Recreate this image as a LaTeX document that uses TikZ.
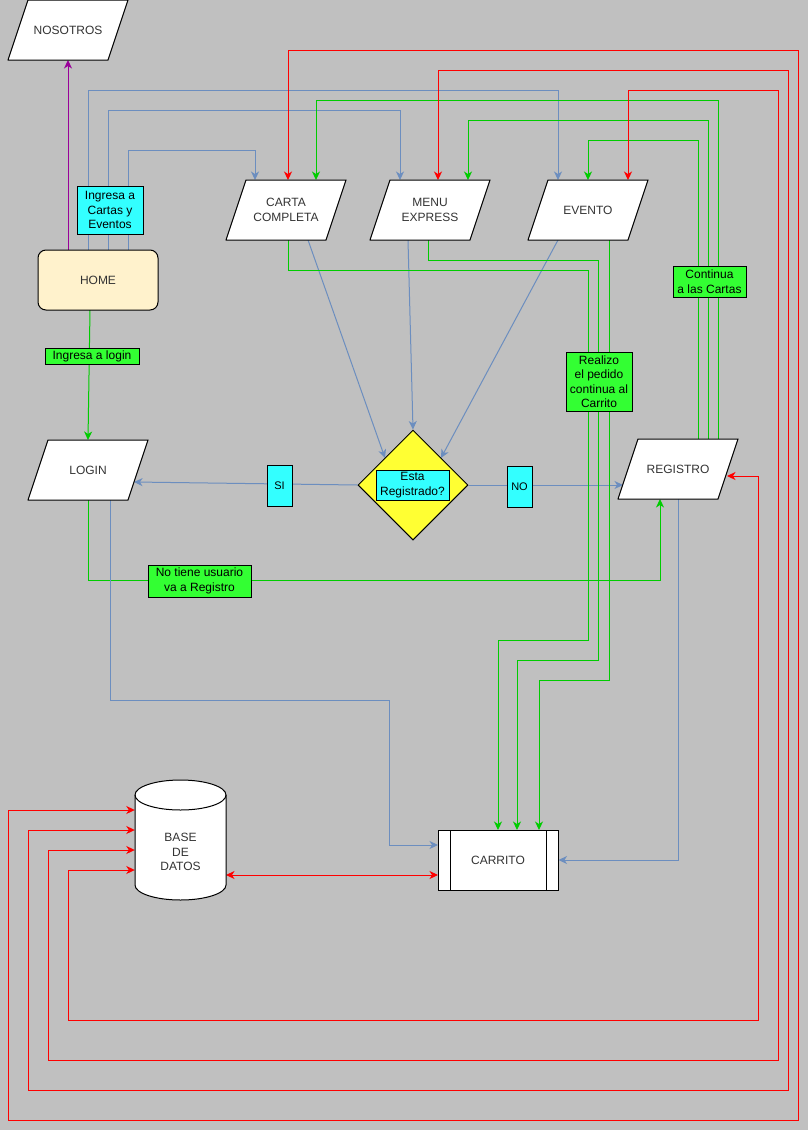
\documentclass[tikz,border=0pt]{standalone}
\usepackage{fontspec}
\setmainfont{Liberation Sans}
\usetikzlibrary{arrows.meta,shapes.geometric}
\pgfdeclarelayer{bg}
\pgfsetlayers{bg,main}
\definecolor{canvas}{HTML}{C0C0C0}
\definecolor{flowblue}{HTML}{6C8EBF}
\definecolor{flowgreen}{HTML}{00CC00}
\definecolor{flowred}{HTML}{FF0000}
\definecolor{flowpurple}{HTML}{990099}
\definecolor{tagcyan}{HTML}{33FFFF}
\definecolor{taggreen}{HTML}{33FF33}
\definecolor{decfill}{HTML}{FFFF33}
\definecolor{homefill}{HTML}{FFF2CC}
\definecolor{textgrey}{HTML}{333333}
\begin{document}
\begin{tikzpicture}[x=1pt,y=-1pt,
  >={Stealth[length=8.5pt,width=8pt,inset=2.5pt]},
  shapetext/.style={font=\fontsize{12}{14.5}\selectfont, text=textgrey, align=center},
  pgram/.style={shapetext, rectangle, minimum width=121pt, minimum height=61pt, inner sep=0pt,
    path picture={\filldraw[line width=1pt, draw=black, fill=white]
      ([xshift=20.5pt,yshift=-0.5pt]path picture bounding box.north west) --
      ([xshift=-0.5pt,yshift=-0.5pt]path picture bounding box.north east) --
      ([xshift=-20.5pt,yshift=0.5pt]path picture bounding box.south east) --
      ([xshift=0.5pt,yshift=0.5pt]path picture bounding box.south west) -- cycle;}},
  homebox/.style={shapetext, rectangle, rounded corners=8pt, draw=black, fill=homefill, line width=1pt,
    minimum width=120pt, minimum height=60pt},
  decision/.style={diamond, draw=black, fill=decfill, line width=1pt, minimum width=110pt,
    minimum height=110pt, inner sep=0pt},
  procbox/.style={shapetext, rectangle, draw=black, fill=white, line width=1pt,
    minimum width=120pt, minimum height=60pt,
    path picture={
      \draw[line width=1pt] ([xshift=12pt]path picture bounding box.north west) -- ([xshift=12pt]path picture bounding box.south west);
      \draw[line width=1pt] ([xshift=-12pt]path picture bounding box.north east) -- ([xshift=-12pt]path picture bounding box.south east);}},
  tag/.style={draw=black, line width=1pt, inner sep=0pt, align=center, text=black,
    font=\fontsize{12}{14.5}\selectfont},
  cyantag/.style={tag, fill=tagcyan},
  greentag/.style={tag, fill=taggreen},
  conn/.style={line width=1pt, ->},
  bluel/.style={conn, draw=flowblue},
  greenl/.style={conn, draw=flowgreen},
  purpl/.style={conn, draw=flowpurple},
  redl/.style={line width=1pt, draw=flowred, <->}]

\begin{pgfonlayer}{bg}
  \fill[canvas] (0,0) rectangle (808,1130);
\end{pgfonlayer}
\useasboundingbox (0,0) rectangle (808,1130);

% database cylinder
\filldraw[line width=1pt, fill=white] (135,795) -- (135,885)
  arc[start angle=180, end angle=0, x radius=45.5, y radius=15] -- (226,795)
  arc[start angle=0, end angle=-180, x radius=45.5, y radius=15] -- cycle;
\draw[line width=1pt] (135,795) arc[start angle=180, end angle=0, x radius=45.5, y radius=15];
\node[rectangle, minimum width=91pt, minimum height=120pt, inner sep=0pt] (db) at (180.5,840) {};
\node[shapetext] (dbtext) at (180.5,852) {BASE\\DE\\DATOS};

% main shapes
\node[pgram] (nos) at (68,30) {NOSOTROS};
\node[homebox] (home) at (98,280) {HOME};
\node[pgram] (carta) at (286,210) {CARTA\\COMPLETA};
\node[pgram] (menu) at (430,210) {MENU\\EXPRESS};
\node[pgram] (evento) at (588,210) {EVENTO};
\node[pgram] (login) at (88,470) {LOGIN};
\node[pgram] (reg) at (678,469) {REGISTRO};
\node[decision] (dia) at (413,485) {};
\node[cyantag, minimum width=73pt, minimum height=30pt] (diatxt) at (412.5,485) {Esta\\Registrado?};
\node[procbox] (carrito) at (498,860) {CARRITO};

% edge tags
\node[cyantag, minimum width=66pt, minimum height=48pt] (tcart) at (110,210) {Ingresa a\\Cartas y\\Eventos};
\node[greentag, minimum width=94pt, minimum height=16pt] (tlogin) at (92,356) {Ingresa a login};
\node[cyantag, minimum width=25pt, minimum height=41pt, font=\fontsize{11}{13}\selectfont] (tsi) at (279.5,485.5) {SI};
\node[cyantag, minimum width=25pt, minimum height=41pt, font=\fontsize{11}{13}\selectfont] (tno) at (519.5,486.5) {NO};
\node[greentag, minimum width=103pt, minimum height=32pt] (tnouser) at (199.5,581) {No tiene usuario\\va a Registro};
\node[greentag, minimum width=66pt, minimum height=59pt] (tpedido) at (599,381.5) {Realizo\\el pedido\\continua al\\Carrito};
\node[greentag, minimum width=73pt, minimum height=31pt] (tcont) at (709.5,281.5) {Continua\\a las Cartas};

\begin{pgfonlayer}{bg}
% home to nosotros and to the menus
\draw[purpl] ([shift={(-30,-30)}]home.center) -- ([shift={(0,30)}]nos.center);
\draw[bluel] ([shift={(-10,-30)}]home.center) -- (88,90) -- (558,90) -- ([shift={(-30,-30)}]evento.center);
\draw[bluel] ([shift={(10,-30)}]home.center) -- (108,110) -- (400,110) -- ([shift={(-30,-30)}]menu.center);
\draw[bluel] ([shift={(30,-30)}]home.center) -- (128,150) -- (255,150) -- ([shift={(-31,-30)}]carta.center);

% menus to the decision
\draw[bluel] ([shift={(22,30)}]carta.center) -- ([shift={(-28,-27)}]dia.center);
\draw[bluel] ([shift={(-22,30)}]menu.center) -- (dia.north);
\draw[bluel] ([shift={(-30,30)}]evento.center) -- ([shift={(28,-27)}]dia.center);
\draw[bluel] (dia.west) -- ([shift={(46,12)}]login.center);
\draw[bluel] (dia.east) -- ([shift={(-55,16)}]reg.center);

% green flows
\draw[greenl] ([shift={(-8,30)}]home.center) -- ([shift={(0,-30)}]login.center);
\draw[greenl] ([shift={(0,30)}]login.center) -- (88,580) -- (660,580) -- ([shift={(-18,30)}]reg.center);
\draw[greenl] ([shift={(2,30)}]carta.center) -- (288,270) -- (588,270) -- (588,640) -- (498,640) -- ([shift={(0,-30)}]carrito.center);
\draw[greenl] ([shift={(-2,30)}]menu.center) -- (428,260) -- (598,260) -- (598,660) -- (517,660) -- ([shift={(19,-30)}]carrito.center);
\draw[greenl] ([shift={(21,30)}]evento.center) -- (609,680) -- (539,680) -- ([shift={(41,-30)}]carrito.center);
\draw[greenl] ([shift={(20,-30)}]reg.center) -- (698,140) -- (588,140) -- ([shift={(0,-30)}]evento.center);
\draw[greenl] ([shift={(30,-30)}]reg.center) -- (708,120) -- (468,120) -- ([shift={(38,-30)}]menu.center);
\draw[greenl] ([shift={(40,-30)}]reg.center) -- (718,100) -- (316,100) -- ([shift={(30,-30)}]carta.center);

% blue flows into the cart
\draw[bluel] ([shift={(22,30)}]login.center) -- (110,700) -- (389,700) -- (389,845) -- ([shift={(-60,-15)}]carrito.center);
\draw[bluel] ([shift={(0,30)}]reg.center) -- (678,860) -- (carrito.east);

% database links
\draw[redl] ([shift={(0,-30)}]db.west) -- (8,810) -- (8,1120) -- (798,1120) -- (798,50) -- (288,50) -- ([shift={(2,-30)}]carta.center);
\draw[redl] ([shift={(0,-10)}]db.west) -- (28,830) -- (28,1090) -- (788,1090) -- (788,70) -- (438,70) -- ([shift={(8,-30)}]menu.center);
\draw[redl] ([shift={(0,10)}]db.west) -- (48,850) -- (48,1060) -- (778,1060) -- (778,90) -- (628,90) -- ([shift={(40,-30)}]evento.center);
\draw[redl] ([shift={(0,30)}]db.west) -- (68,870) -- (68,1020) -- (758,1020) -- (758,476) -- ([shift={(49,7)}]reg.center);
\draw[redl] ([shift={(45.5,35)}]db.center) -- ([shift={(-60,15)}]carrito.center);
\end{pgfonlayer}
\end{tikzpicture}
\end{document}
